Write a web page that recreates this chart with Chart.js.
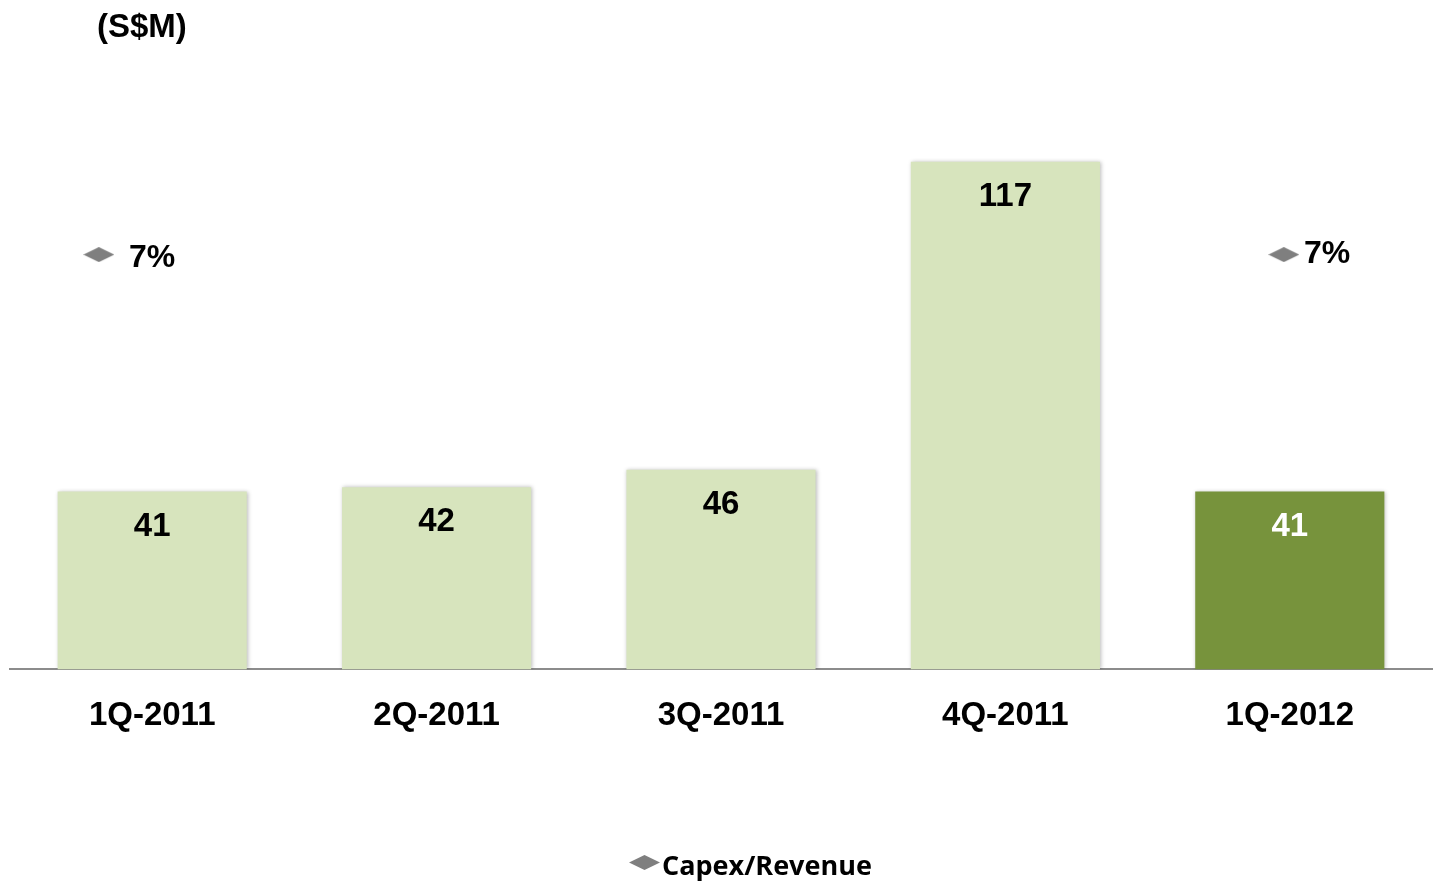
<!DOCTYPE html>
<html lang="en">
<head>
<meta charset="utf-8">
<title>Capex (S$M)</title>
<script src="https://cdn.jsdelivr.net/npm/chart.js@4.4.1/dist/chart.umd.min.js"></script>
<style>
  html, body { margin: 0; padding: 0; background: #ffffff; }
  .chart-wrap { position: relative; width: 1436px; height: 887px; }
</style>
</head>
<body>
<div class="chart-wrap"><canvas id="capexChart"></canvas></div>
<script>
"use strict";

// values
const quarters = ["1Q-2011", "2Q-2011", "3Q-2011", "4Q-2011", "1Q-2012"];
const capex = [41, 42, 46, 117, 41];
const capexToRevenue = [7, null, null, null, 7];

const UNIT_LABEL = "(S$M)";
const LINE_LABEL = "Capex/Revenue";
const LIGHT_GREEN = "#D7E4BD";
const DARK_GREEN = "#77933C";
const MARKER_GRAY = "#7F7F7F";
const ARIAL = "'Liberation Sans', Arial, sans-serif";

function makeDiamond(w, h, color) {
  const c = document.createElement("canvas");
  c.width = w;
  c.height = h;
  const ctx = c.getContext("2d");
  ctx.fillStyle = color;
  ctx.beginPath();
  ctx.moveTo(0, h / 2);
  ctx.lineTo(w / 2, 0);
  ctx.lineTo(w, h / 2);
  ctx.lineTo(w / 2, h);
  ctx.closePath();
  ctx.fill();
  return c;
}

const diamond = makeDiamond(31, 15, MARKER_GRAY);

// soft shadow round the columns, like the office chart
const barShadow = {
  id: "barShadow",
  beforeDatasetDraw(chart, args) {
    if (args.index !== 0) return;
    const ctx = chart.ctx;
    ctx.save();
    ctx.shadowColor = "rgba(0, 0, 0, 0.28)";
    ctx.shadowBlur = 4;
    ctx.shadowOffsetX = 1;
    ctx.shadowOffsetY = 0;
  },
  afterDatasetDraw(chart, args) {
    if (args.index !== 0) return;
    chart.ctx.restore();
  }
};

const valueLabels = {
  id: "valueLabels",
  afterDatasetsDraw(chart) {
    const ctx = chart.ctx;
    ctx.save();
    ctx.textBaseline = "middle";

    ctx.font = `bold 33px ${ARIAL}`;
    ctx.textAlign = "center";
    chart.getDatasetMeta(0).data.forEach((bar, i) => {
      ctx.fillStyle = i === capex.length - 1 ? "#ffffff" : "#000000";
      ctx.fillText(String(capex[i]), bar.x, bar.y + 35);
    });

    // the first ratio label sits a bit further from its marker than the last
    ctx.font = `bold 32px ${ARIAL}`;
    ctx.textAlign = "left";
    ctx.fillStyle = "#000000";
    chart.getDatasetMeta(1).data.forEach((pt, i) => {
      if (capexToRevenue[i] == null) return;
      const gap = i === 0 ? 30 : 20;
      ctx.fillText(`${capexToRevenue[i]}%`, pt.x + gap, pt.y + (i === 0 ? 4 : 0));
    });

    ctx.font = `bold 33px ${ARIAL}`;
    ctx.fillText(UNIT_LABEL, 97, 28);

    // legend, sitting a little right of centre as in the original
    ctx.drawImage(diamond, 629, 855);
    ctx.font = "bold 27px 'Open Sans', 'Noto Sans', sans-serif";
    ctx.fillText(LINE_LABEL, 662, 867);
    ctx.restore();
  }
};

const barColors = capex.map((_, i) => (i === capex.length - 1 ? DARK_GREEN : LIGHT_GREEN));

new Chart(document.getElementById("capexChart"), {
  type: "bar",
  data: {
    labels: quarters,
    datasets: [
      {
        label: "Capex",
        data: capex,
        backgroundColor: barColors,
        borderWidth: 0,
        grouped: false,
        categoryPercentage: 1,
        barPercentage: 0.665,
        xAxisID: "x",
        yAxisID: "y",
        order: 2
      },
      {
        type: "line",
        label: LINE_LABEL,
        data: capexToRevenue.map((v, i) => ({ x: i, y: v })),
        showLine: false,
        pointStyle: diamond,
        pointRadius: 8,
        xAxisID: "x2",
        yAxisID: "y2",
        order: 1
      }
    ]
  },
  options: {
    responsive: true,
    maintainAspectRatio: false,
    animation: false,
    events: [],
    layout: { autoPadding: false, padding: { top: 62, left: 10, right: 4, bottom: 124 } },
    plugins: {
      tooltip: { enabled: false },
      legend: { display: false }
    },
    scales: {
      x: {
        type: "category",
        grid: { display: false, drawTicks: false },
        border: { display: true, color: "#8C8C8C", width: 2 },
        ticks: {
          color: "#000000",
          padding: 27,
          font: { family: ARIAL, size: 33, weight: "bold" }
        }
      },
      x2: { type: "linear", display: false, offset: false, min: -0.3, max: 4.5 },
      y: { display: false, min: 0, max: 140 },
      y2: { display: false, min: 0, max: 10.25 }
    }
  },
  plugins: [barShadow, valueLabels]
});
</script>
</body>
</html>
